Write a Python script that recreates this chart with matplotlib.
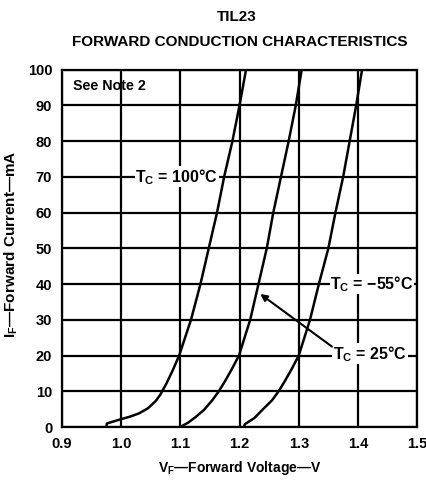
import matplotlib
matplotlib.use("Agg")
import matplotlib.pyplot as plt

# forward voltage (V) / forward current (mA)
v_100 = [0.975, 0.976, 1.000, 1.015, 1.030, 1.045, 1.058, 1.066, 1.076, 1.087, 1.098,
         1.118, 1.134, 1.148, 1.162, 1.174, 1.188, 1.200, 1.211]
i_100 = [0, 1.0, 2.2, 2.9, 3.8, 5.2, 7.2, 9.0, 12.0, 15.8, 20,
         30, 40, 50, 60, 70, 80, 90, 100]

v_25 = [1.100, 1.113, 1.126, 1.140, 1.154, 1.165, 1.175, 1.187, 1.199,
        1.218, 1.232, 1.246, 1.257, 1.270, 1.283, 1.295, 1.305]
i_25 = [0, 1.2, 2.8, 4.8, 7.5, 10, 12.7, 16.2, 20,
        30, 40, 50, 60, 70, 80, 90, 100]

v_m55 = [1.207, 1.209, 1.225, 1.238, 1.255, 1.266, 1.276, 1.288, 1.300,
         1.319, 1.334, 1.350, 1.362, 1.375, 1.386, 1.397, 1.407]
i_m55 = [0, 0.8, 2.5, 4.7, 7.5, 10, 12.7, 16.2, 20,
         30, 40, 50, 60, 70, 80, 90, 100]

x_ticks = [0.9, 1.0, 1.1, 1.2, 1.3, 1.4, 1.5]
y_ticks = [0, 10, 20, 30, 40, 50, 60, 70, 80, 90, 100]

plt.rcParams['font.family'] = ['Liberation Sans', 'DejaVu Sans']
plt.rcParams['font.weight'] = 'bold'
plt.rcParams['mathtext.fontset'] = 'custom'
plt.rcParams['mathtext.rm'] = 'Liberation Sans:bold'

fig = plt.figure(figsize=(4.27, 4.80), dpi=100)
ax = fig.add_axes([0.145, 0.1104, 0.832, 0.7448])

ax.set_xlim(0.9, 1.5)
ax.set_ylim(0, 100)
ax.set_xticks(x_ticks)
ax.set_xticklabels(['0.9', '1.0', '1.1', '1.2', '1.3', '1.4', '1.5'])
ax.set_yticks(y_ticks)
ax.tick_params(length=0, labelsize=10.5, pad=7)
for lab in ax.get_xticklabels() + ax.get_yticklabels():
    lab.set_fontweight('bold')
ax.grid(color='black', linewidth=1.6)
for s in ax.spines.values():
    s.set_linewidth(1.6)

for v, i in [(v_100, i_100), (v_25, i_25), (v_m55, i_m55)]:
    ax.plot(v, i, color='black', linewidth=1.8, zorder=3)

box = dict(facecolor='white', edgecolor='none', pad=0.5)
ax.text(0.918, 95.5, 'See Note 2', fontsize=10.3, fontweight='bold', va='center', ha='left')
ax.text(1.024, 70, r'T$_\mathrm{C}$ = 100°C', fontsize=11.5, fontweight='bold',
        va='center', ha='left', bbox=box, zorder=4)
ax.text(1.353, 40, r'T$_\mathrm{C}$ = −55°C', fontsize=11.5, fontweight='bold',
        va='center', ha='left', bbox=box, zorder=4)
ax.text(1.358, 20.5, r'T$_\mathrm{C}$ = 25°C', fontsize=11.5, fontweight='bold',
        va='center', ha='left', bbox=box, zorder=4)
ax.annotate('', xy=(1.235, 37.2), xytext=(1.356, 22.5),
            arrowprops=dict(arrowstyle='-|>', color='black', lw=1.5,
                            mutation_scale=10, shrinkA=0, shrinkB=0), zorder=5)

ax.set_xlabel(r'V$_\mathrm{F}$—Forward Voltage—V', fontsize=10, fontweight='bold', labelpad=6)
ax.set_ylabel(r'I$_\mathrm{F}$—Forward Current—mA', fontsize=11, fontweight='bold')
ax.yaxis.set_label_coords(-0.118, 0.51)

fig.text(0.555, 0.964, 'TIL23', fontsize=11, fontweight='bold', ha='center', va='center')
fig.text(0.562, 0.912, 'FORWARD CONDUCTION CHARACTERISTICS', fontsize=11, fontweight='bold',
         ha='center', va='center')

fig.savefig('out.png', dpi=100)
